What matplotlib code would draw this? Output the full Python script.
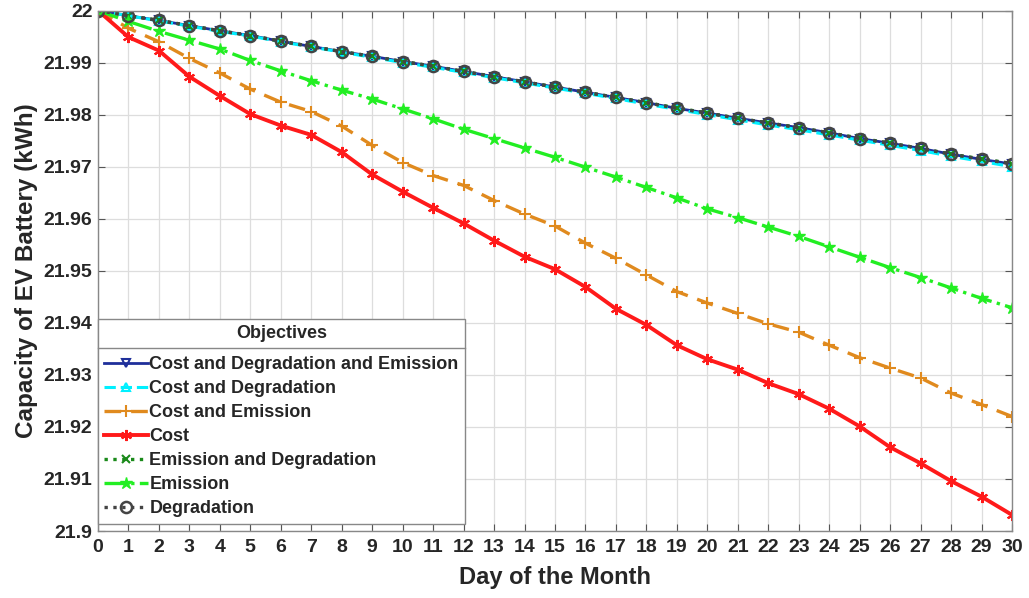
import numpy as np
import matplotlib
matplotlib.use('Agg')
import matplotlib.pyplot as plt
from matplotlib import font_manager
from matplotlib.lines import Line2D

plt.rcParams['font.family'] = ['Liberation Sans', 'DejaVu Sans']
plt.rcParams['font.weight'] = 'bold'

days = np.arange(0, 31)

# capacity per objective (kWh)
cost_deg_em = [22.0, 21.9990, 21.9981, 21.9971, 21.9961, 21.9952, 21.9941, 21.9931, 21.9921, 21.9912,
               21.9902, 21.9893, 21.9883, 21.9873, 21.9863, 21.9853, 21.9843, 21.9833, 21.9823, 21.9812,
               21.9803, 21.9793, 21.9784, 21.9775, 21.9765, 21.9754, 21.9745, 21.9735, 21.9724, 21.9714, 21.9705]
cost_deg = [22.0, 21.9990, 21.9980, 21.9970, 21.9960, 21.9951, 21.9940, 21.9930, 21.9920, 21.9910,
            21.9900, 21.9891, 21.9881, 21.9871, 21.9861, 21.9851, 21.9841, 21.9831, 21.9820, 21.9810,
            21.9800, 21.9790, 21.9780, 21.9771, 21.9761, 21.9751, 21.9741, 21.9731, 21.9720, 21.9710, 21.9700]
cost_em = [22.0, 21.9966, 21.9940, 21.9908, 21.9880, 21.9849, 21.9824, 21.9806, 21.9778, 21.9741,
           21.9708, 21.9683, 21.9664, 21.9635, 21.9609, 21.9586, 21.9553, 21.9524, 21.9492, 21.9460,
           21.9438, 21.9418, 21.9398, 21.9382, 21.9357, 21.9333, 21.9313, 21.9294, 21.9265, 21.9243, 21.9220]
cost = [22.0, 21.9949, 21.9923, 21.9873, 21.9836, 21.9801, 21.9779, 21.9761, 21.9728, 21.9685,
        21.9652, 21.9621, 21.9591, 21.9558, 21.9527, 21.9503, 21.9469, 21.9427, 21.9396, 21.9357,
        21.9330, 21.9310, 21.9284, 21.9263, 21.9235, 21.9201, 21.9161, 21.9130, 21.9096, 21.9066, 21.9031]
em_deg = [22.0, 21.9990, 21.9981, 21.9971, 21.9961, 21.9952, 21.9941, 21.9931, 21.9921, 21.9912,
          21.9902, 21.9893, 21.9883, 21.9873, 21.9863, 21.9853, 21.9843, 21.9833, 21.9823, 21.9813,
          21.9803, 21.9793, 21.9784, 21.9775, 21.9765, 21.9755, 21.9745, 21.9735, 21.9724, 21.9715, 21.9706]
emission = [22.0, 21.9979, 21.9960, 21.9943, 21.9926, 21.9904, 21.9884, 21.9865, 21.9847, 21.9830,
            21.9811, 21.9792, 21.9772, 21.9754, 21.9736, 21.9718, 21.9699, 21.9680, 21.9660, 21.9640,
            21.9619, 21.9602, 21.9584, 21.9566, 21.9546, 21.9526, 21.9506, 21.9487, 21.9467, 21.9447, 21.9429]
degradation = [22.0, 21.9990, 21.9981, 21.9971, 21.9961, 21.9952, 21.9941, 21.9931, 21.9921, 21.9912,
               21.9902, 21.9893, 21.9883, 21.9873, 21.9863, 21.9853, 21.9843, 21.9833, 21.9823, 21.9812,
               21.9803, 21.9793, 21.9784, 21.9775, 21.9765, 21.9754, 21.9745, 21.9735, 21.9724, 21.9714, 21.9706]

yticks = [21.9, 21.91, 21.92, 21.93, 21.94, 21.95, 21.96, 21.97, 21.98, 21.99, 22]
ytick_labels = ['21.9', '21.91', '21.92', '21.93', '21.94', '21.95', '21.96', '21.97', '21.98', '21.99', '22']

fig = plt.figure(figsize=(10.29, 5.98), dpi=100)
ax = fig.add_axes([0.0952, 0.112, 0.8883, 0.8704])

asterisk = (6, 2, 0)
ax.plot(days, cost_deg_em, color='#1f2f9a', ls='-', lw=2, marker='v', ms=6, mfc='none', mew=1.5,
        label='Cost and Degradation and Emission')
ax.plot(days, cost_deg, color='#00f0ff', ls='--', lw=2.2, marker='^', ms=6, mfc='none', mew=1.5,
        label='Cost and Degradation')
ax.plot(days, cost_em, color='#e08a1e', ls=(0, (5, 3)), lw=2.4, marker='+', ms=9, mew=1.5,
        label='Cost and Emission')
ax.plot(days, cost, color='#ff1a1a', ls='-', lw=2.8, marker=asterisk, ms=8, mew=1.5,
        label='Cost')
ax.plot(days, em_deg, color='#1a8a1a', ls=':', lw=2.4, marker='x', ms=6, mew=1.5,
        label='Emission and Degradation')
ax.plot(days, emission, color='#22ee22', ls='-.', lw=2.4, marker='*', ms=9, mew=1,
        label='Emission')
ax.plot(days, degradation, color='#444444', ls=':', lw=2.4, marker='o', ms=8, mfc='none', mew=1.8,
        label='Degradation')

ax.set_xlim(0, 30)
ax.set_ylim(21.9, 22.0)
ax.set_xticks(days)
ax.set_yticks(yticks)
ax.set_yticklabels(ytick_labels)

narrow = 'Liberation Sans Narrow'
have_narrow = any(f.name == narrow for f in font_manager.fontManager.ttflist)
xfam = [narrow, 'Liberation Sans'] if have_narrow else ['Liberation Sans']
for lbl in ax.get_xticklabels():
    lbl.set_family(xfam)
    lbl.set_fontsize(14)
    lbl.set_fontweight('bold')
for lbl in ax.get_yticklabels():
    lbl.set_fontsize(14)
    lbl.set_fontweight('bold')

ax.tick_params(direction='in', top=True, right=True, length=5, width=0.8, color='#555555',
               labelcolor='#262626', pad=4)
ax.tick_params(axis='x', pad=6)
ax.grid(True, color='#dddddd', lw=0.9)
for sp in ax.spines.values():
    sp.set_color('#888888')
    sp.set_linewidth(1)

ax.set_xlabel('Day of the Month', fontsize=17, fontweight='bold', family=xfam, color='#262626', labelpad=7)
ax.set_ylabel('Capacity of EV Battery (kWh)', fontsize=17.5, fontweight='bold', color='#262626', labelpad=4)

leg = ax.legend(loc='lower left', bbox_to_anchor=(0.0, 0.014), borderaxespad=0.0, fancybox=False,
                framealpha=1, edgecolor='#888888', title='Objectives',
                prop={'weight': 'bold', 'size': 13}, handlelength=2.4, handletextpad=0.1,
                labelspacing=0.39, borderpad=0.35)
leg.get_title().set_fontweight('bold')
leg.get_title().set_fontsize(13)
leg.get_title().set_color('#262626')
for t in leg.get_texts():
    t.set_color('#262626')
leg.get_frame().set_linewidth(1)
# extra room between the title row and the entries
leg._legend_box.sep = 10

# separator under the legend title
fig.canvas.draw()
lb = leg.get_window_extent()
tb = leg.get_title().get_window_extent()
ysep = (tb.y0 - 6) / fig.bbox.height
fig.add_artist(Line2D([lb.x0 / fig.bbox.width, lb.x1 / fig.bbox.width], [ysep, ysep],
                      color='#888888', lw=1))

fig.savefig('out.png', dpi=100)
